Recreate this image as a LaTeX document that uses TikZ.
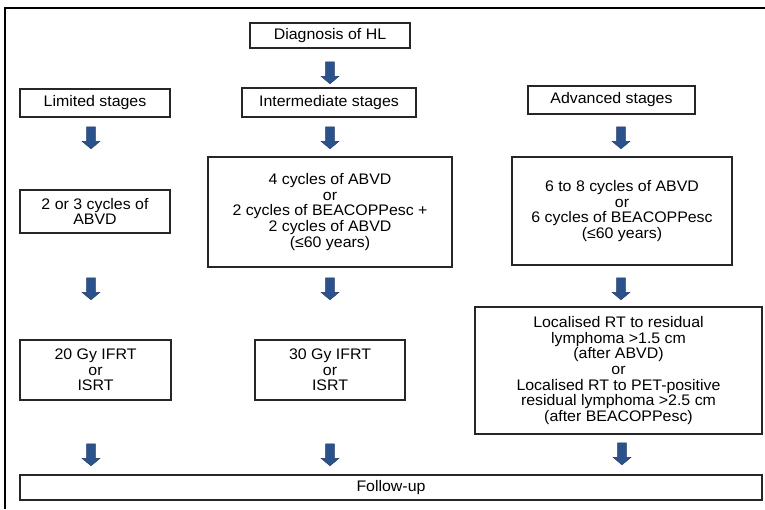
\documentclass[tikz,border=0pt]{standalone}
\usepackage{fontspec}
\setmainfont{Liberation Sans}[FakeStretch=1.04]
\usetikzlibrary{shapes.arrows}
\definecolor{arrowblue}{RGB}{44,82,140}
\definecolor{arrowedge}{RGB}{30,55,100}

\begin{document}
\begin{tikzpicture}[x=1pt, y=-1pt,
    box/.style={draw=black!85, line width=1.2pt, fill=white, align=center,
                inner sep=0pt, font=\fontsize{15.3}{15.6}\selectfont},
    bluearrow/.style={single arrow, rotate=-90, fill=arrowblue, draw=arrowedge,
                line width=0.4pt, minimum height=22pt, inner xsep=0pt, inner ysep=4.2pt,
                single arrow head extend=4.5pt, single arrow tip angle=100}]
    \useasboundingbox[fill=white] (0,0) rectangle (765,509);
    % frame
    \draw[line width=2.6pt] (765,8) -- (5,8) -- (5,509);

    % top
    \node[box, minimum width=160pt, minimum height=25pt] (diag) at (330,35.5) {Diagnosis of HL};
    \node[bluearrow] (a0) at (330,71) {};

    % stages
    \node[box, minimum width=150pt, minimum height=28pt] (limited) at (95,103) {Limited stages};
    \node[box, minimum width=174pt, minimum height=29pt] (inter) at (329,102.5) {Intermediate stages};
    \node[box, minimum width=167pt, minimum height=28pt] (adv) at (611.5,100) {Advanced stages};

    \node[bluearrow] (a1) at (91,136) {};
    \node[bluearrow] (a2) at (330,136) {};
    \node[bluearrow] (a3) at (621,136) {};

    % chemotherapy
    \node[box, minimum width=150pt, minimum height=43pt] (limchemo) at (95,211.5)
        {2 or 3 cycles of\\ABVD};
    \node[box, minimum width=244pt, minimum height=110pt] (interchemo) at (330,212)
        {4 cycles of ABVD\\or\\2 cycles of BEACOPPesc +\\2 cycles of ABVD\\(≤60 years)};
    \node[box, minimum width=220pt, minimum height=108pt] (advchemo) at (622,211)
        {6 to 8 cycles of ABVD\\or\\6 cycles of BEACOPPesc\\(≤60 years)};

    \node[bluearrow] (a4) at (91,287) {};
    \node[bluearrow] (a5) at (330,287) {};
    \node[bluearrow] (a6) at (621,287) {};

    % radiotherapy
    \node[box, minimum width=151pt, minimum height=60pt] (limrt) at (95.5,370)
        {20 Gy IFRT\\or\\ISRT};
    \node[box, minimum width=150pt, minimum height=60pt] (interrt) at (330,370)
        {30 Gy IFRT\\or\\ISRT};
    \node[box, minimum width=287pt, minimum height=127pt] (advrt) at (618.5,370.5)
        {Localised RT to residual\\lymphoma >1.5 cm\\(after ABVD)\\or\\Localised RT to PET-positive\\residual lymphoma >2.5 cm\\(after BEACOPPesc)};

    \node[bluearrow] (a7) at (91,453) {};
    \node[bluearrow] (a8) at (330,453) {};
    \node[bluearrow] (a9) at (622,452) {};

    % follow-up
    \node[box, minimum width=742pt, minimum height=25pt] (follow) at (391,487.5) {Follow-up};
\end{tikzpicture}
\end{document}
